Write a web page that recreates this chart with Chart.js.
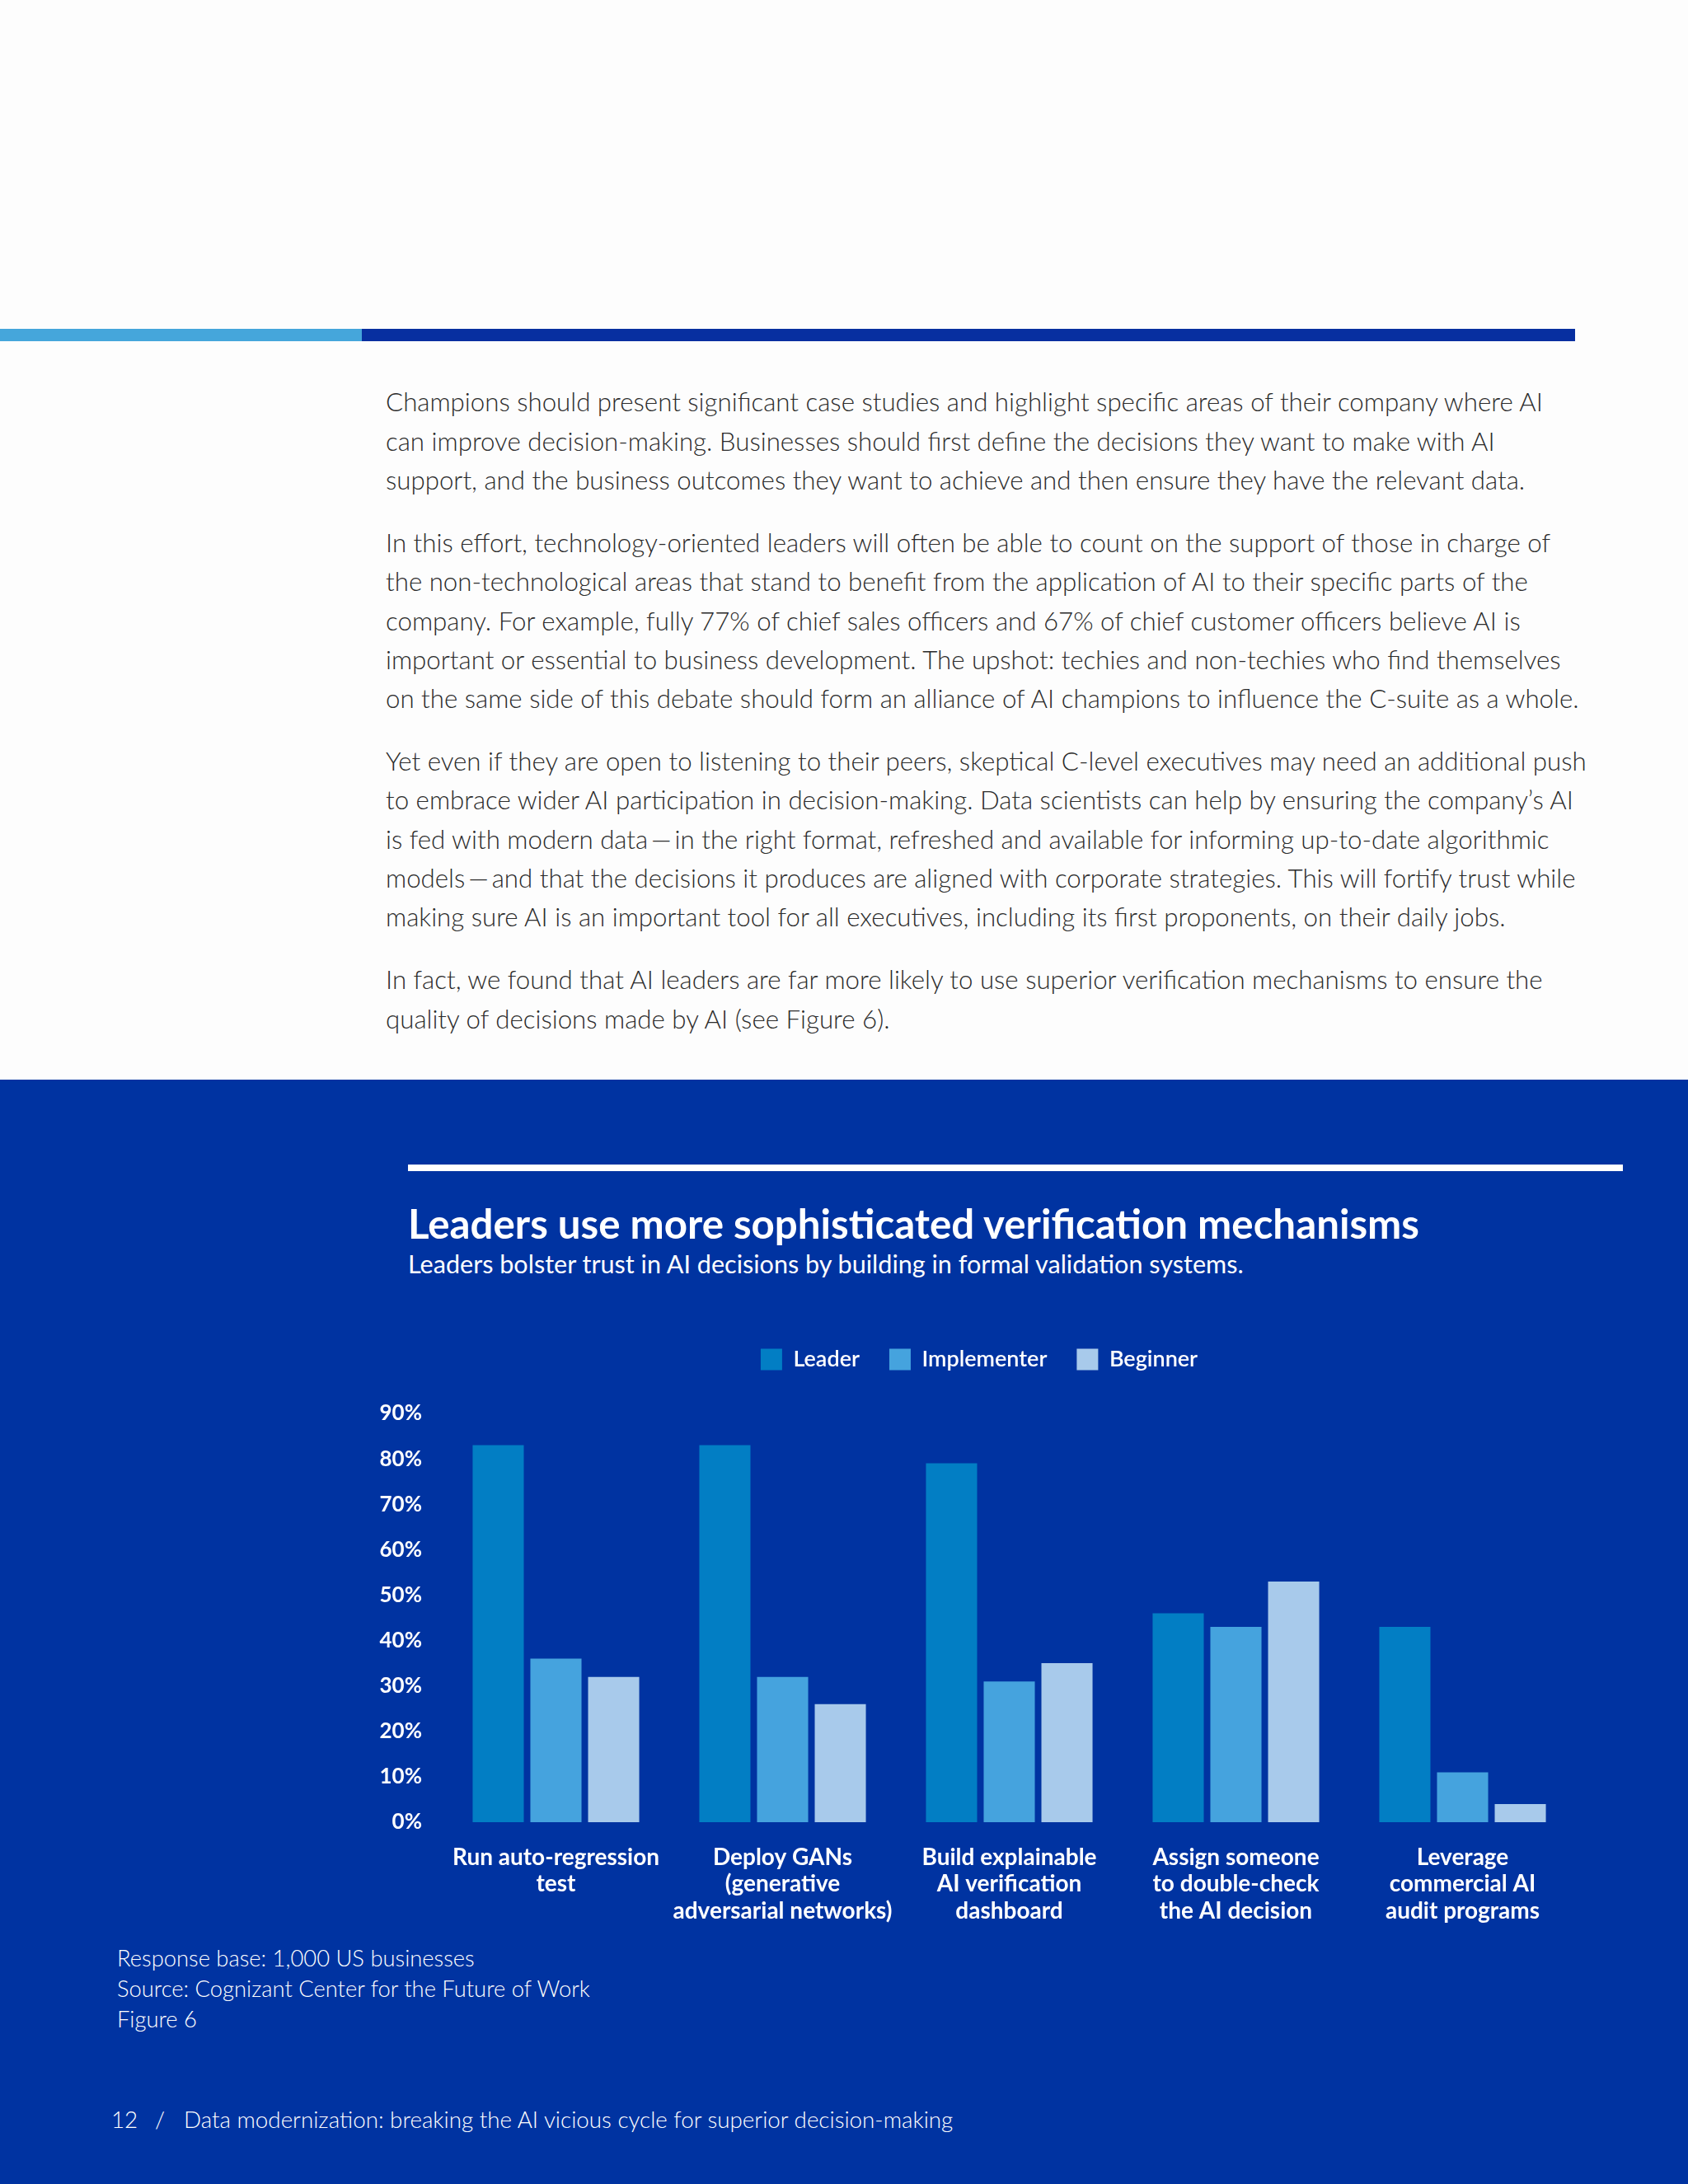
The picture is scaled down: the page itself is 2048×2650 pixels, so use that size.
<!DOCTYPE html>
<html><head><meta charset="utf-8">
<script src="https://cdn.jsdelivr.net/npm/chart.js@4.4.1/dist/chart.umd.min.js"></script>
<style>
html,body{margin:0;padding:0;}
body{width:2048px;height:2650px;position:relative;background:#fdfdfd;overflow:hidden;font-family:Lato,'Open Sans',sans-serif;}
.t{position:absolute;white-space:nowrap;}
#barL{position:absolute;left:0;top:399px;width:439px;height:15px;background:#45a6db;}
#barR{position:absolute;left:439px;top:399px;width:1472px;height:15px;background:#072fa0;}
#blue{position:absolute;left:0;top:1310px;width:2048px;height:1340px;background:#0033a1;}
#rule{position:absolute;left:495px;top:1413px;width:1474px;height:8px;background:#ffffff;}
#chartBox{position:absolute;left:417px;top:1600px;width:1542px;height:741px;}
</style></head>
<body>
<div id="barL"></div><div id="barR"></div>
<div id="blue"></div>
<div id="rule"></div>
<div id="texts"></div>
<div id="chartBox"><canvas id="c"></canvas></div>
<script>
// ---------- data ----------
const categories = [
  ["Run auto-regression","test"],
  ["Deploy GANs","(generative","adversarial networks)"],
  ["Build explainable","AI verification","dashboard"],
  ["Assign someone","to double-check","the AI decision"],
  ["Leverage","commercial AI","audit programs"]
];
const seriesNames = ["Leader","Implementer","Beginner"];
const leaderValues = [83, 83, 79, 46, 43];
const implementerValues = [36, 32, 31, 43, 11];
const beginnerValues = [32, 26, 35, 53, 4];
const yTickStep = 10;
const yMax = 90;

const bodyParagraphs = [
  ["Champions should present significant case studies and highlight specific areas of their company where AI",
   "can improve decision-making. Businesses should first define the decisions they want to make with AI",
   "support, and the business outcomes they want to achieve and then ensure they have the relevant data."],
  ["In this effort, technology-oriented leaders will often be able to count on the support of those in charge of",
   "the non-technological areas that stand to benefit from the application of AI to their specific parts of the",
   "company. For example, fully 77% of chief sales officers and 67% of chief customer officers believe AI is",
   "important or essential to business development. The upshot: techies and non-techies who find themselves",
   "on the same side of this debate should form an alliance of AI champions to influence the C-suite as a whole."],
  ["Yet even if they are open to listening to their peers, skeptical C-level executives may need an additional push",
   "to embrace wider AI participation in decision-making. Data scientists can help by ensuring the company\u2019s AI",
   "is fed with modern data\u2009\u2014\u2009in the right format, refreshed and available for informing up-to-date algorithmic",
   "models\u2009\u2014\u2009and that the decisions it produces are aligned with corporate strategies. This will fortify trust while",
   "making sure AI is an important tool for all executives, including its first proponents, on their daily jobs."],
  ["In fact, we found that AI leaders are far more likely to use superior verification mechanisms to ensure the",
   "quality of decisions made by AI (see Figure 6)."]
];
const titleText = "Leaders use more sophisticated verification mechanisms";
const subtitleText = "Leaders bolster trust in AI decisions by building in formal validation systems.";
const noteLines = ["Response base: 1,000 US businesses","Source: Cognizant Center for the Future of Work","Figure 6"];
const footerPage = "12";
const footerText = "Data modernization: breaking the AI vicious cycle for superior decision-making";

// ---------- text layout ----------
const host = document.getElementById('texts');
function addText(str, x, cy, size, weight, color){
  const d = document.createElement('div');
  d.className = 't';
  d.textContent = str;
  d.style.left = x + 'px';
  d.style.fontSize = size + 'px';
  d.style.fontWeight = weight;
  d.style.color = color;
  d.style.lineHeight = size + 'px';
  d.style.height = size + 'px';
  d.style.top = (cy - size/2) + 'px';
  host.appendChild(d);
  return d;
}
function fitSize(str, weight, targetW){
  const d = addText(str, 0, -500, 100, weight, '#000');
  const w = d.getBoundingClientRect().width;
  d.remove();
  return 100 * targetW / w;
}
// body
const bodySize = fitSize(bodyParagraphs[0][0], 300, 1404);
let y = 488;
bodyParagraphs.forEach(p => {
  p.forEach(line => { addText(line, 468, y, bodySize, 300, '#2b2b2b'); y += 47.3; });
  y += 28.7;
});
// title / subtitle
addText(titleText, 495, 1484, fitSize(titleText, 700, 1227), 700, '#ffffff');
addText(subtitleText, 495, 1534, fitSize(subtitleText, 400, 1014), 400, '#ffffff');
// notes
const noteSize = fitSize(noteLines[1], 300, 574);
noteLines.forEach((l, i) => addText(l, 142, 2376 + i*37, noteSize, 300, '#ffffff'));
const footSize = fitSize(footerText, 300, 934);
addText(footerPage, 135, 2572, footSize, 300, '#ffffff');
addText("/", 188, 2572, footSize, 300, '#ffffff');
addText(footerText, 223, 2572, footSize, 300, '#ffffff');

// ---------- chart ----------
const legendHeight = {
  id: 'legendHeight',
  afterInit(chart){
    const lg = chart.legend;
    const orig = lg.fit;
    lg.fit = function(){ orig.call(this); this.height = 115; };
  }
};
Chart.defaults.font.family = "Lato, 'Open Sans', sans-serif";
new Chart(document.getElementById('c'), {
  type: 'bar',
  data: {
    labels: categories,
    datasets: [
      {label: seriesNames[0], data: leaderValues, backgroundColor: '#027ec4'},
      {label: seriesNames[1], data: implementerValues, backgroundColor: '#45a3de'},
      {label: seriesNames[2], data: beginnerValues, backgroundColor: '#a8caeb'}
    ]
  },
  options: {
    responsive: true,
    maintainAspectRatio: false,
    animation: false,
    layout: {padding: 0},
    datasets: {bar: {categoryPercentage: 0.764, barPercentage: 0.886, borderWidth: 0}},
    plugins: {
      legend: {
        position: 'top',
        align: 'center',
        labels: {color: '#ffffff', boxWidth: 26, boxHeight: 26, padding: 36,
                 font: {size: 27, weight: '600'}}
      },
      tooltip: {enabled: false}
    },
    scales: {
      x: {
        grid: {display: false, drawTicks: false},
        border: {display: false},
        afterFit(s){ s.height = 130; },
        ticks: {color: '#ffffff', padding: 27, maxRotation: 0, autoSkip: false,
                font: {size: 28, weight: '700', lineHeight: 1.15}}
      },
      y: {
        min: 0, max: yMax,
        grid: {display: false, drawTicks: false},
        border: {display: false},
        afterFit(s){ s.width = 120; },
        ticks: {color: '#ffffff', padding: 25, stepSize: yTickStep,
                callback: v => v + '%',
                font: {size: 26, weight: '700'}}
      },
      yRight: {
        position: 'right',
        min: 0, max: yMax,
        grid: {display: false, drawTicks: false},
        border: {display: false},
        ticks: {display: false},
        afterFit(s){ s.width = 47; }
      }
    }
  },
  plugins: [legendHeight]
});
</script>
</body></html>
